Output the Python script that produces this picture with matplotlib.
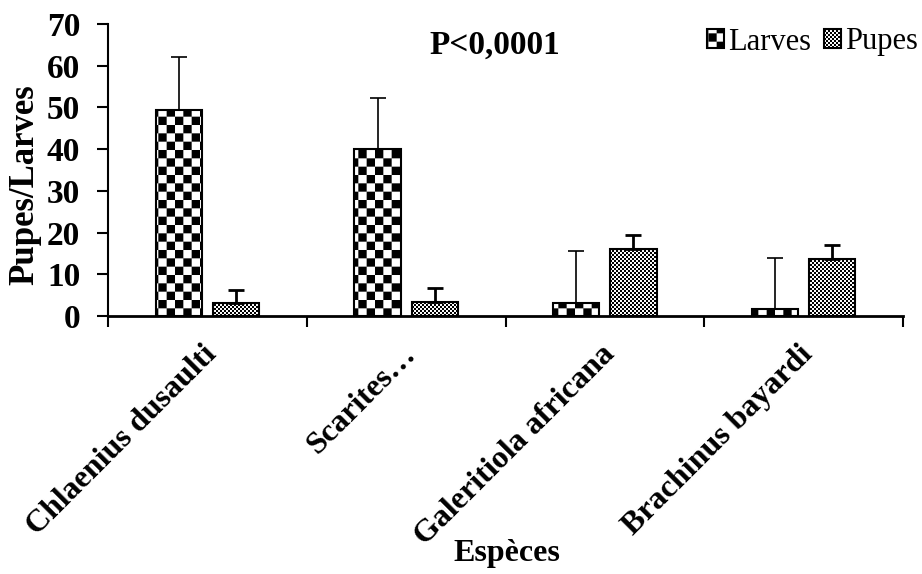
import warnings
import numpy as np
import matplotlib
matplotlib.use('Agg')
import matplotlib.pyplot as plt
import matplotlib.hatch as mhatch
from matplotlib.path import Path
from matplotlib.transforms import ScaledTranslation

warnings.filterwarnings('ignore')

# data
especes = ['Chlaenius dusaulti', 'Scarites…', 'Galeritiola africana', 'Brachinus bayardi']
larves = [49.5, 40.0, 3.2, 1.7]
larves_err = [12.5, 12.3, 12.4, 12.3]
pupes = [3.0, 3.3, 16.0, 13.7]
pupes_err = [3.3, 3.5, 3.3, 3.3]


# checkerboard hatch: each 'c' adds 2 squares per hatch unit
class CheckerHatch(mhatch.HatchPatternBase):
    def __init__(self, hatch, density):
        self.n = 2 * hatch.count('c')
        self.num_vertices = 5 * (self.n * self.n // 2)

    def set_vertices_and_codes(self, vertices, codes):
        s = 1.0 / self.n
        sq = np.array([[0, 0], [s, 0], [s, s], [0, s], [0, 0]])
        parts = []
        for i in range(self.n):
            for j in range(self.n):
                if (i + j) % 2 == 0:
                    parts.append(sq + [i * s, j * s])
        vertices[:] = np.concatenate(parts)
        codes[:] = np.tile([Path.MOVETO, Path.LINETO, Path.LINETO,
                            Path.LINETO, Path.CLOSEPOLY], len(parts))


mhatch._hatch_types.append(CheckerHatch)

plt.rcParams['font.family'] = 'Liberation Serif'
plt.rcParams['hatch.linewidth'] = 0.01
plt.rcParams['hatch.color'] = 'black'

fig = plt.figure(figsize=(9.22, 5.74), dpi=100)
ax = fig.add_axes([108 / 922, 1 - 316 / 574, 795 / 922, 292 / 574])

x = np.arange(len(especes))
w = 0.232
off = 0.144

ax.bar(x - off, larves, w, color='white', edgecolor='black', linewidth=1.5,
       hatch='c' * 6, label='Larves', zorder=2)
ax.bar(x + off, pupes, w, color='white', edgecolor='black', linewidth=1.5,
       hatch='c' * 25, label='Pupes', zorder=2)

ax.errorbar(x - off, larves, yerr=[np.zeros(4), larves_err], fmt='none',
            ecolor='black', elinewidth=1.2, capsize=6, capthick=1.2, zorder=3)
ax.errorbar(x + off, pupes, yerr=[np.zeros(4), pupes_err], fmt='none',
            ecolor='black', elinewidth=2, capsize=6, capthick=2, zorder=3)

ax.set_xlim(-0.5, 3.5)
ax.set_ylim(0, 70)
ax.set_yticks(range(0, 71, 10))

ax.spines['top'].set_visible(False)
ax.spines['right'].set_visible(False)
ax.spines['left'].set_linewidth(1.5)
ax.spines['bottom'].set_linewidth(2)

ax.tick_params(axis='y', direction='out', length=8, width=1.5, pad=12,
               labelsize=24)
for t in ax.get_yticklabels():
    t.set_fontweight('bold')

ax.set_xticks(x)
ax.set_xticks(np.arange(-0.5, 4, 1), minor=True)
ax.tick_params(axis='x', which='major', length=0, pad=17)
ax.tick_params(axis='x', which='minor', direction='out', length=8, width=1.5)
ax.set_xticklabels(especes, rotation=45, ha='right', va='top',
                   rotation_mode='anchor', fontsize=23, fontweight='bold')
for t in ax.get_xticklabels():
    t.set_transform(t.get_transform() + ScaledTranslation(-5 / 100, 0, fig.dpi_scale_trans))

ax.set_xlabel('Espèces', fontsize=23, fontweight='bold', va='center')
ax.xaxis.set_label_coords(0.502, -0.815)
ax.set_ylabel('Pupes/Larves', fontsize=25, fontweight='bold', va='center')
ax.yaxis.set_label_coords(-0.104, 0.449)

ax.text(0.487, 0.928, 'P<0,0001', transform=ax.transAxes, ha='center',
        va='center', fontsize=24, fontweight='bold')

fig.legend(loc='center right', bbox_to_anchor=(918 / 922, 1 - 42 / 574),
           ncol=2, frameon=False, fontsize=22, handlelength=0.55,
           handleheight=0.55, handletextpad=0.15, columnspacing=0.4,
           borderpad=0, borderaxespad=0)

fig.savefig('out.png', dpi=100)
